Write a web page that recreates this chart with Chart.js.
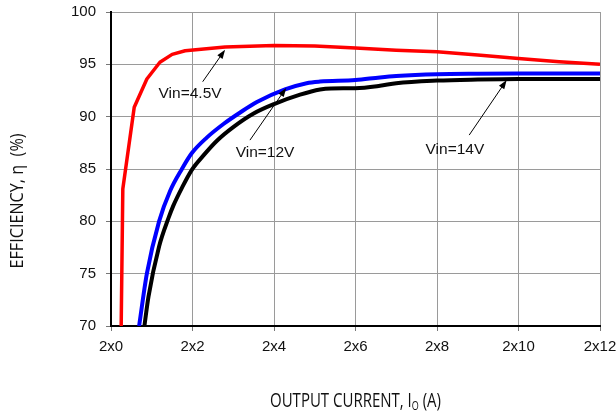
<!DOCTYPE html>
<html>
<head>
<meta charset="utf-8">
<script src="https://cdn.jsdelivr.net/npm/chart.js@4/dist/chart.umd.min.js"></script>
<style>
  html, body { margin: 0; padding: 0; background: #fff; }
  canvas { display: block; }
</style>
</head>
<body>
<canvas id="eff" width="616" height="412"></canvas>
<script>
// Efficiency vs output current for three input voltages
const xTickLabels = ['2x0', '2x2', '2x4', '2x6', '2x8', '2x10', '2x12'];
const yTickLabels = ['70', '75', '80', '85', '90', '95', '100'];

const currentVin45 = [0.25, 0.29, 0.57, 0.88, 1.2, 1.5, 1.82, 2.8, 4.0, 5.0, 6.0, 7.0, 8.0, 9.0, 10.0, 11.0, 12.0];
const effVin45     = [70, 83.1, 90.9, 93.6, 95.2, 95.95, 96.3, 96.65, 96.8, 96.75, 96.55, 96.35, 96.2, 95.9, 95.55, 95.25, 95.0];

const currentVin12 = [0.69, 0.88, 1.18, 1.45, 1.74, 1.98, 2.35, 2.76, 3.17, 3.58, 4.27, 4.8, 5.13, 6.0, 6.6, 7.0, 8.0, 9.0, 10.0, 11.0, 12.0];
const effVin12     = [70, 75.0, 80.0, 82.9, 85.0, 86.5, 88.0, 89.3, 90.4, 91.4, 92.6, 93.2, 93.35, 93.5, 93.75, 93.88, 94.05, 94.1, 94.12, 94.12, 94.12];

const currentVin14 = [0.82, 0.92, 1.18, 1.41, 1.53, 1.74, 1.98, 2.27, 2.6, 3.0, 3.5, 4.0, 4.64, 5.13, 5.4, 6.0, 6.6, 7.0, 8.0, 9.0, 10.0, 11.0, 12.0];
const effVin14     = [70, 72.8, 77.6, 80.3, 81.5, 83.2, 84.9, 86.3, 87.7, 89.0, 90.3, 91.2, 92.1, 92.6, 92.7, 92.72, 92.95, 93.2, 93.45, 93.55, 93.6, 93.6, 93.6];

const seriesNames = ['Vin=4.5V', 'Vin=12V', 'Vin=14V'];

// Callout arrows: label anchor, arrow tail and arrow tip, in axis units (A, %)
const calloutLabelAt = [[1.94, 92.16], [3.78, 86.6], [8.44, 86.8]];
const calloutTail    = [[2.25, 93.34], [3.41, 87.76], [8.79, 88.24]];
const calloutTip     = [[2.80, 96.40], [4.30, 92.75], [9.71, 93.50]];

const toPoints = (xs, ys) => xs.map((v, i) => ({ x: v, y: ys[i] }));

const TITLE_FONT = '"Open Sans", "Noto Sans", sans-serif';

function squishedText(ctx, parts, cx, cy, angle, sx) {
  // parts: [{text, size, dy}] drawn left to right, horizontally condensed by sx
  ctx.save();
  ctx.translate(cx, cy);
  ctx.rotate(angle);
  ctx.scale(sx, 1);
  let total = 0;
  parts.forEach(p => { ctx.font = p.size + 'px ' + TITLE_FONT; total += ctx.measureText(p.text).width; });
  let x = -total / 2;
  ctx.fillStyle = '#111';
  ctx.textBaseline = 'alphabetic';
  ctx.textAlign = 'left';
  parts.forEach(p => {
    ctx.font = p.size + 'px ' + TITLE_FONT;
    ctx.fillText(p.text, x, p.dy || 0);
    x += ctx.measureText(p.text).width;
  });
  ctx.restore();
}

const decorPlugin = {
  id: 'decor',
  afterDraw(chart) {
    const { ctx } = chart;
    const xs = chart.scales.x, ys = chart.scales.y;

    // callouts
    seriesNames.forEach((name, i) => {
      const tx = xs.getPixelForValue(calloutTail[i][0]), ty = ys.getPixelForValue(calloutTail[i][1]);
      const hx = xs.getPixelForValue(calloutTip[i][0]),  hy = ys.getPixelForValue(calloutTip[i][1]);
      const ang = Math.atan2(hy - ty, hx - tx);
      const headLen = 9, headHalf = 3.2;
      ctx.save();
      ctx.strokeStyle = '#000';
      ctx.fillStyle = '#000';
      ctx.lineWidth = 1;
      ctx.beginPath();
      ctx.moveTo(tx, ty);
      ctx.lineTo(hx - Math.cos(ang) * headLen * 0.8, hy - Math.sin(ang) * headLen * 0.8);
      ctx.stroke();
      ctx.beginPath();
      ctx.moveTo(hx, hy);
      ctx.lineTo(hx - Math.cos(ang) * headLen + Math.sin(ang) * headHalf, hy - Math.sin(ang) * headLen - Math.cos(ang) * headHalf);
      ctx.lineTo(hx - Math.cos(ang) * headLen - Math.sin(ang) * headHalf, hy - Math.sin(ang) * headLen + Math.cos(ang) * headHalf);
      ctx.closePath();
      ctx.fill();

      const lx = xs.getPixelForValue(calloutLabelAt[i][0]), ly = ys.getPixelForValue(calloutLabelAt[i][1]);
      ctx.font = '15.5px "Liberation Sans", Arial, sans-serif';
      ctx.textAlign = 'center';
      ctx.textBaseline = 'middle';
      ctx.fillStyle = '#111';
      ctx.fillText(name, lx, ly);
      ctx.restore();
    });

    // axis titles
    const area = chart.chartArea;
    squishedText(ctx, [
      { text: 'OUTPUT CURRENT, I', size: 20 },
      { text: 'O', size: 12, dy: 3 },
      { text: ' (A)', size: 20 }
    ], (area.left + area.right) / 2, 406.5, 0, 0.75);

    squishedText(ctx, [
      { text: 'EFFICIENCY, \u03B7  (%)', size: 18 }
    ], 23, 201, -Math.PI / 2, 0.9);
  }
};

new Chart(document.getElementById('eff'), {
  type: 'line',
  data: {
    datasets: [
      { label: seriesNames[0], data: toPoints(currentVin45, effVin45), borderColor: '#ff0000', borderWidth: 3.5, tension: 0 },
      { label: seriesNames[1], data: toPoints(currentVin12, effVin12), borderColor: '#0000ff', borderWidth: 4, cubicInterpolationMode: 'monotone' },
      { label: seriesNames[2], data: toPoints(currentVin14, effVin14), borderColor: '#000000', borderWidth: 4, cubicInterpolationMode: 'monotone' }
    ]
  },
  options: {
    responsive: false,
    animation: false,
    events: [],
    elements: { point: { radius: 0 }, line: { borderCapStyle: 'butt', borderJoinStyle: 'round' } },
    layout: { padding: { top: 12, right: 16, left: 0, bottom: 0 } },
    plugins: { legend: { display: false }, tooltip: { enabled: false }, title: { display: false } },
    scales: {
      x: {
        type: 'linear', min: 0, max: 12,
        afterFit(s) { s.height = 86; s.paddingLeft = 0; s.paddingRight = 0; },
        grid: { color: '#9a9a9a', lineWidth: 1, tickLength: 5, tickColor: '#777' },
        border: { display: true, color: '#000', width: 2 },
        ticks: {
          stepSize: 2, autoSkip: false, maxRotation: 0, padding: 7,
          color: '#111', font: { family: '"Liberation Sans", Arial, sans-serif', size: 15 },
          callback: (v, i) => xTickLabels[i]
        }
      },
      y: {
        min: 70, max: 100,
        afterFit(s) { s.width = 111; s.paddingTop = 0; s.paddingBottom = 0; },
        grid: { color: '#9a9a9a', lineWidth: 1, tickLength: 5, tickColor: '#777' },
        border: { display: true, color: '#000', width: 2 },
        ticks: {
          stepSize: 5, autoSkip: false, padding: 10,
          color: '#111', font: { family: '"Liberation Sans", Arial, sans-serif', size: 15 },
          callback: (v, i) => yTickLabels[i]
        }
      }
    }
  },
  plugins: [decorPlugin]
});
</script>
</body>
</html>
